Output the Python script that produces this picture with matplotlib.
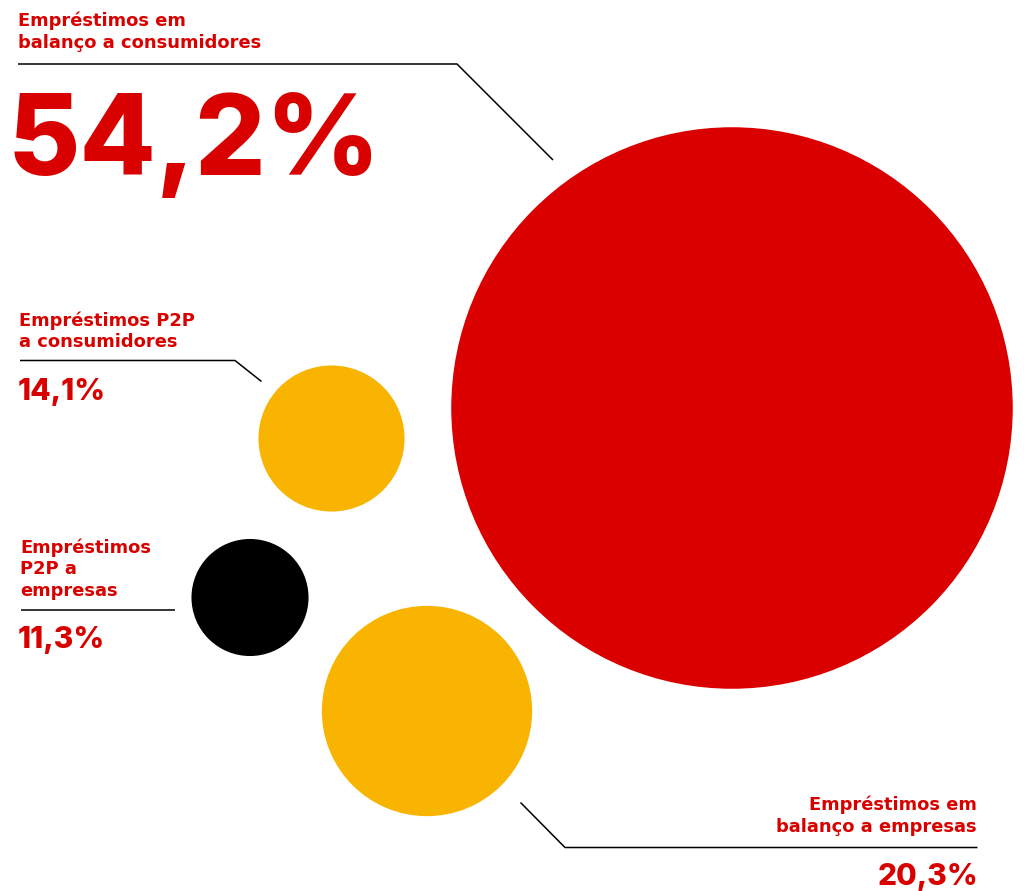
import matplotlib
matplotlib.use("Agg")
import matplotlib.pyplot as plt
from matplotlib.patches import Circle

# --- data -------------------------------------------------------------
categories = [
    "Empréstimos em\nbalanço a consumidores",
    "Empréstimos P2P\na consumidores",
    "Empréstimos\nP2P a\nempresas",
    "Empréstimos em\nbalanço a empresas",
]
shares = [54.2, 14.1, 11.3, 20.3]          # percent of total
bubble_colors = ["#DB0000", "#F8B400", "#000000", "#F8B400"]

# --- layout (pixel coordinates, y grows downward) ----------------------
W, H = 1024, 891
centers = [(732, 408), (331.5, 438.5), (250, 597.5), (427, 711)]
radius_per_point = 5.18                   # bubble radius proportional to share

RED = "#D90000"
LABEL_FONT = dict(family=["DejaVu Sans"], fontweight="bold", fontsize=12.9)
NUMBER_FONT = dict(family=["Inter", "DejaVu Sans"], fontweight="heavy")

fig = plt.figure(figsize=(W / 100, H / 100), dpi=100)
ax = fig.add_axes([0, 0, 1, 1])
ax.set_xlim(0, W)
ax.set_ylim(H, 0)
ax.set_aspect("equal")
ax.axis("off")

for (cx, cy), v, c in zip(centers, shares, bubble_colors):
    ax.add_patch(Circle((cx, cy), v * radius_per_point, facecolor=c,
                        edgecolor="none", zorder=2))


def fmt(v):
    return f"{v:.1f}".replace(".", ",") + "%"


def label(x, y0, text, step, ha="left"):
    for i, line in enumerate(text.split("\n")):
        ax.text(x, y0 + i * step, line, ha=ha, va="baseline", color=RED,
                **LABEL_FONT)


def number(x, y, v, size, ha="left"):
    ax.text(x, y, fmt(v), ha=ha, va="baseline", color=RED, fontsize=size,
            **NUMBER_FONT)


def leader(xs, ys):
    ax.plot(xs, ys, color="black", lw=1.1, solid_capstyle="butt", zorder=1)


# 1: large bubble, label top-left
label(18, 26, categories[0], 21.8)
leader([18, 457, 553], [64, 64, 160])
number(8, 175, shares[0], 80)

# 2: small yellow bubble
label(19, 326, categories[1], 20.8)
leader([20, 235, 261.5], [360.5, 360.5, 381.5])
number(18, 399.5, shares[1], 21.5)

# 3: black bubble
label(20, 553, categories[2], 21.5)
leader([21, 175], [609.5, 609.5])
number(18, 648, shares[2], 21.5)

# 4: lower yellow bubble, label bottom-right
label(977, 810, categories[3], 22, ha="right")
leader([520.5, 565, 977.5], [802.5, 847.5, 847.5])
number(978, 885, shares[3], 21.5, ha="right")

fig.savefig("out.png", dpi=100, facecolor="white")
